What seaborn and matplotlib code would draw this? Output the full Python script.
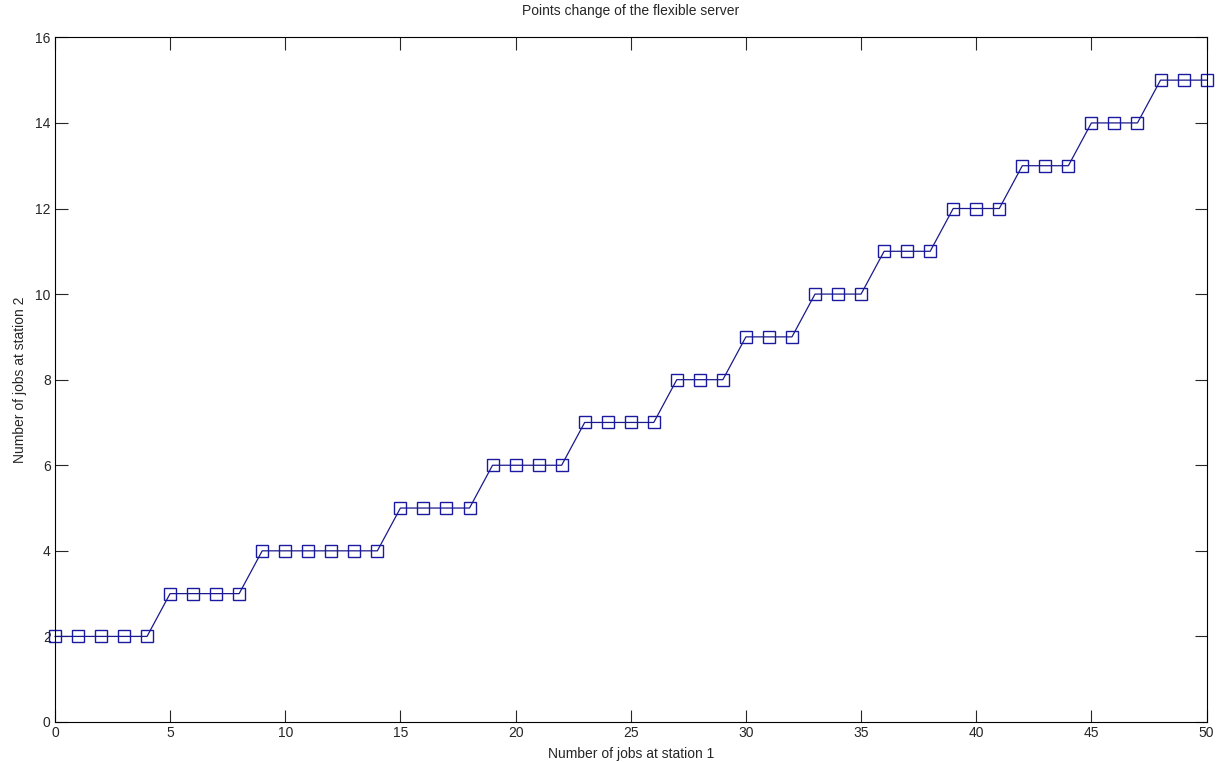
import pandas as pd
import matplotlib
matplotlib.use("Agg")
import matplotlib.pyplot as plt
import seaborn as sns

# number of jobs at station 1 vs switching point at station 2
jobs_station1 = list(range(0, 51))
jobs_station2 = ([2] * 5 + [3] * 4 + [4] * 6 + [5] * 4 + [6] * 4 + [7] * 4
                 + [8] * 3 + [9] * 3 + [10] * 3 + [11] * 3 + [12] * 3
                 + [13] * 3 + [14] * 3 + [15] * 3)
x_ticks = list(range(0, 51, 5))
y_ticks = list(range(0, 17, 2))

df = pd.DataFrame({"x": jobs_station1, "y": jobs_station2})

sns.set_style("ticks")
plt.rcParams["font.family"] = ["Liberation Sans", "DejaVu Sans"]

fig = plt.figure(figsize=(12.2, 7.62), dpi=100)
ax = fig.add_axes([0.045, 0.0525, 0.944, 0.8985])

sns.lineplot(data=df, x="x", y="y", ax=ax, color="#1a1a8c", linewidth=0.9,
             marker="s", markersize=8, markerfacecolor="none",
             markeredgecolor="#1a1aa0", markeredgewidth=1.0, clip_on=False)

ax.set_xlim(0, 50)
ax.set_ylim(0, 16)
ax.set_xticks(x_ticks)
ax.set_yticks(y_ticks)
ax.tick_params(direction="in", length=9, width=0.8, top=True, right=True,
               labelsize=10, pad=3)
for s in ax.spines.values():
    s.set_linewidth(0.8)
    s.set_color("black")

ax.set_title("Points change of the flexible server", fontsize=10, pad=16)
ax.set_xlabel("Number of jobs at station 1", fontsize=10, labelpad=5)
ax.set_ylabel("Number of jobs at station 2", fontsize=10, labelpad=6)

fig.savefig("out.png", dpi=100)
